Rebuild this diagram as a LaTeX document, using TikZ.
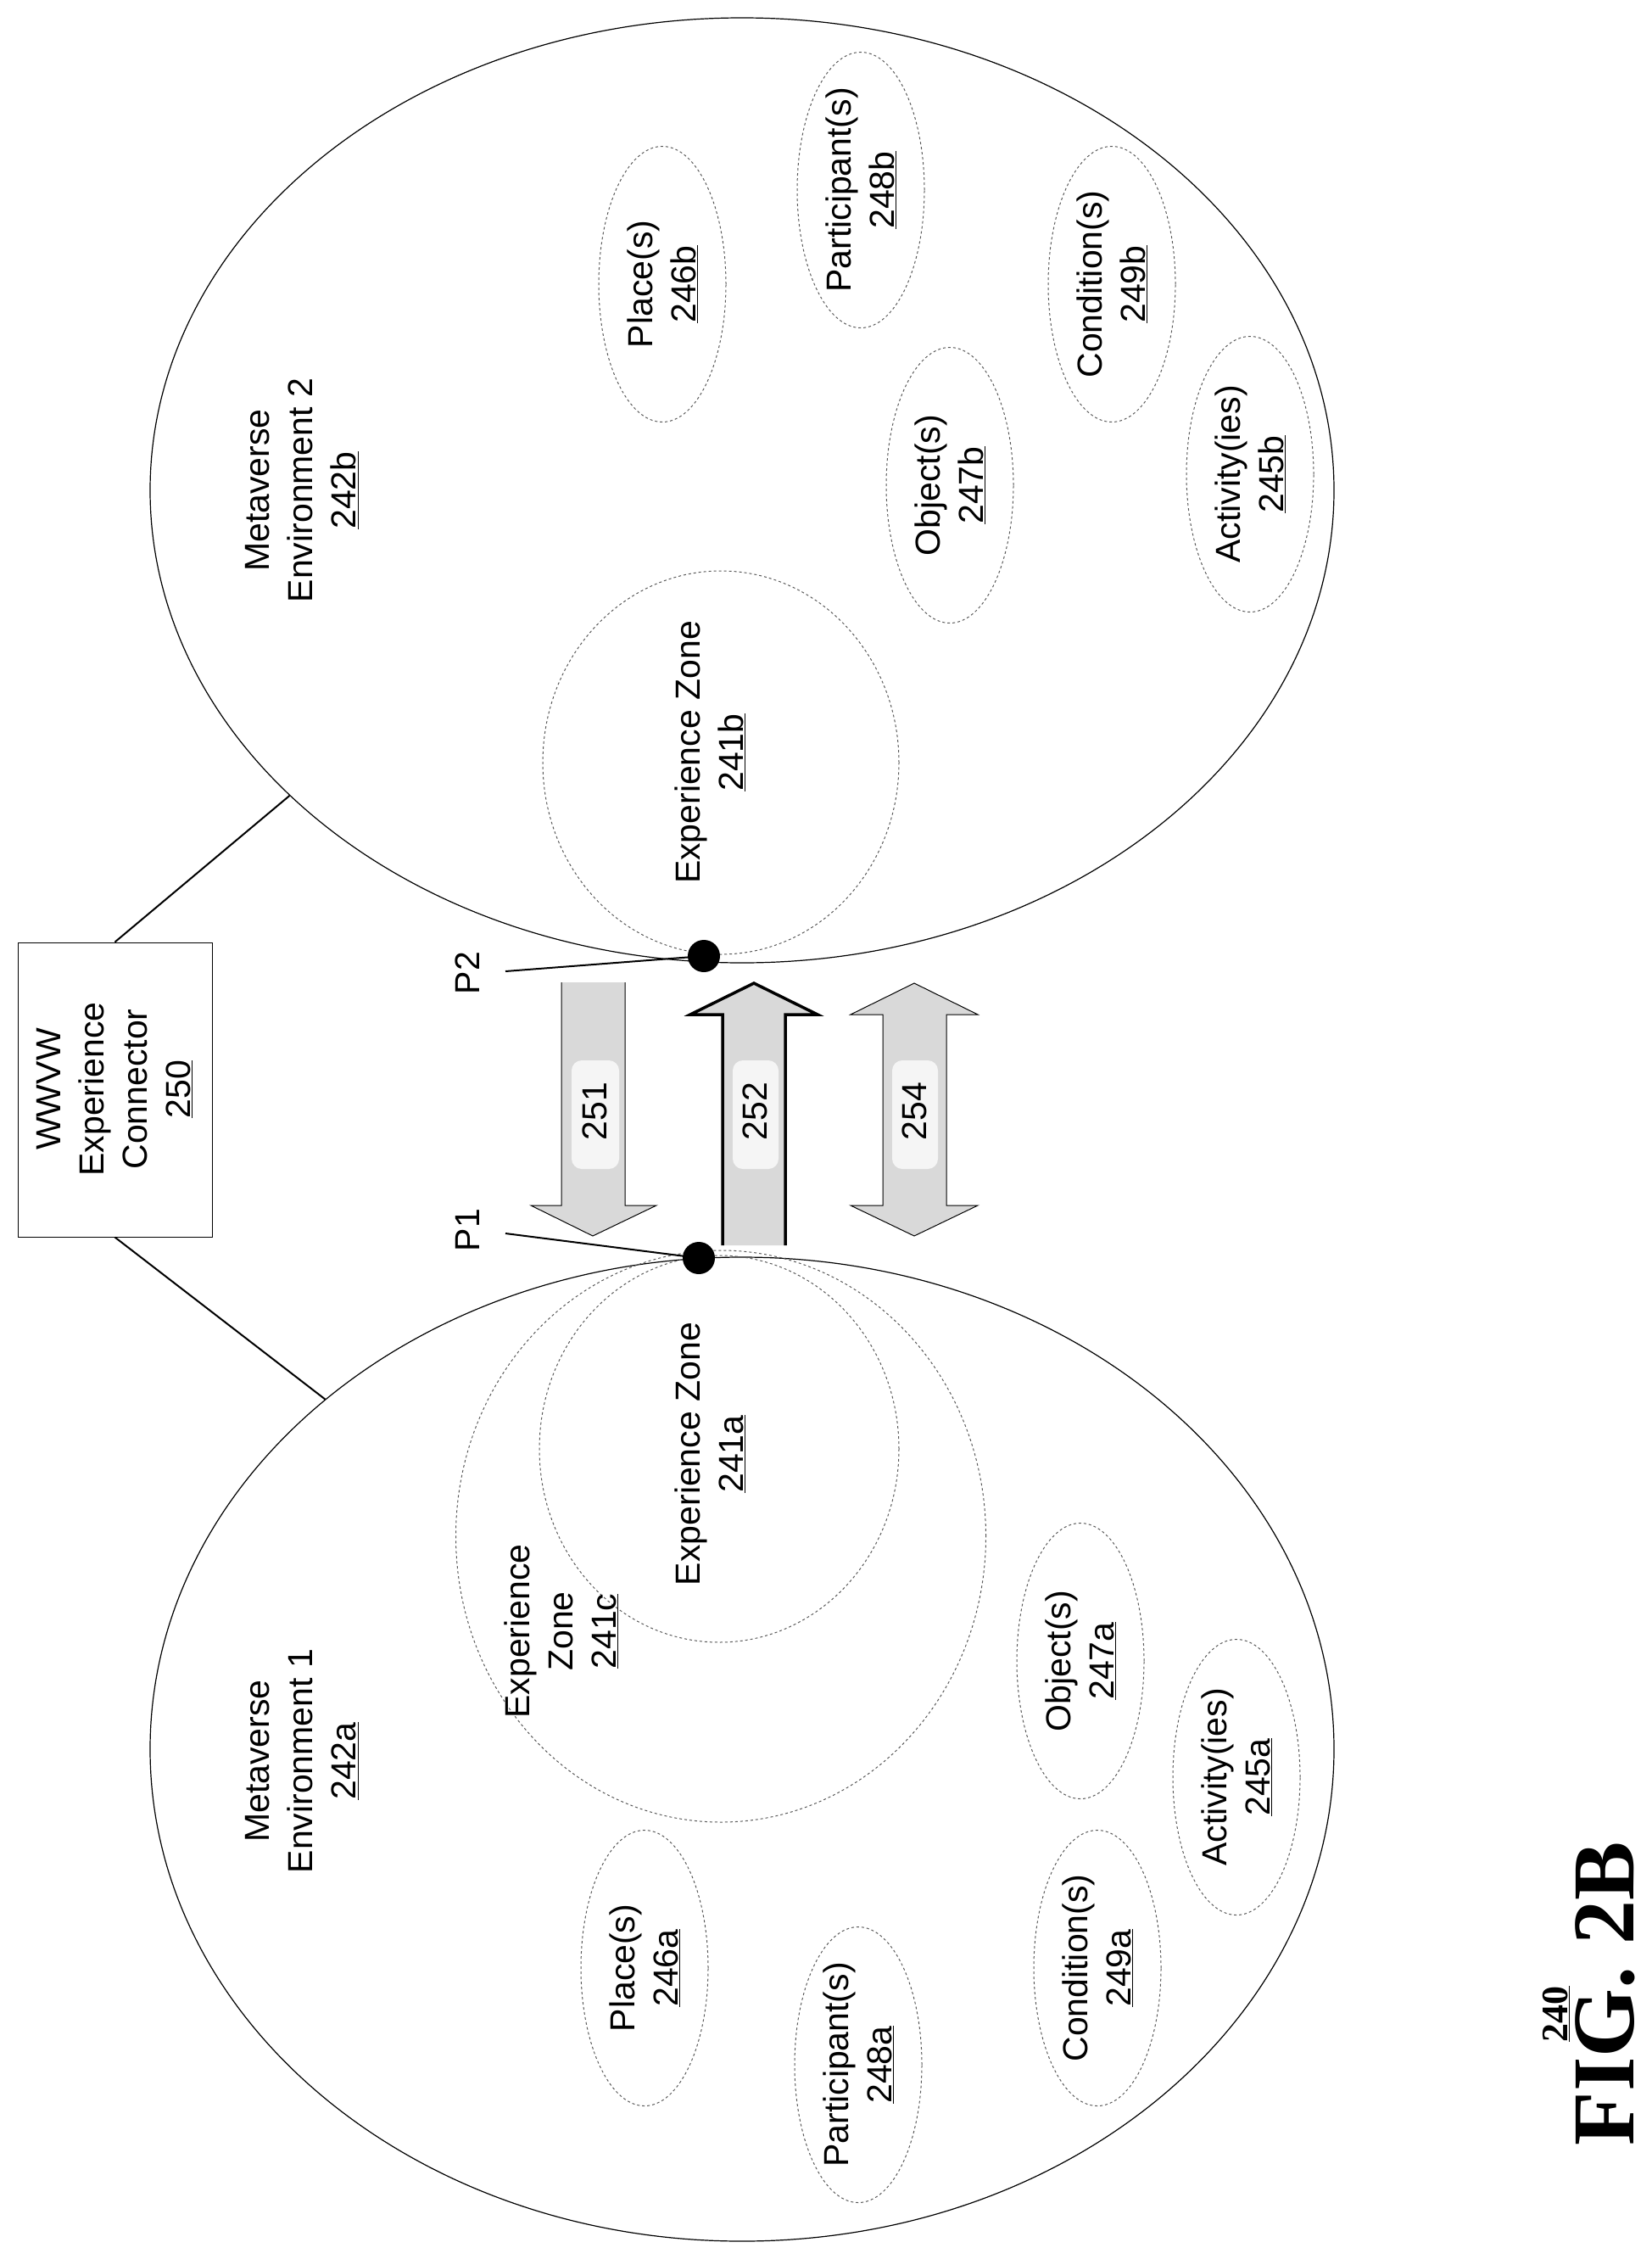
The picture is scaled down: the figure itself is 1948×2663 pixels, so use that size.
\documentclass[tikz,border=0pt]{standalone}
\usepackage{fontspec}
\setmainfont{Liberation Sans}
\newfontfamily\figfont{Liberation Serif}
\usetikzlibrary{shapes.geometric}
\begin{document}
\begin{tikzpicture}[x=1pt,y=-1pt,
  env/.style={ellipse,draw,line width=1.2pt,inner sep=0pt},
  zone/.style={ellipse,draw,dashed,gray!70!black,line width=1pt,inner sep=0pt},
  sub/.style={zone,minimum width=150pt,minimum height=325pt},
  lbl/.style={rotate=90,align=center,font=\fontsize{41}{51}\selectfont,inner sep=0pt},
  conn/.style={line width=2pt},
  dotn/.style={circle,fill=black,minimum size=38pt,inner sep=0pt},
  arr/.style={fill=gray!30,draw=black,line width=1pt},
  patch/.style={fill=gray!8,draw=none,rounded corners=12pt}]
\useasboundingbox (0,0) rectangle (1948,2663);
% environments
\node[env,minimum width=1396pt,minimum height=1114pt] (env2) at (875,578) {};
\node[env,minimum width=1396pt,minimum height=1160pt] (env1) at (875,2062) {};
% zones env2
\node[zone,minimum width=420pt,minimum height=452pt] (z241b) at (850,899) {};
\node[sub] (e246b) at (781,335) {};
\node[sub] (e248b) at (1015,224) {};
\node[sub] (e249b) at (1311,335) {};
\node[sub] (e247b) at (1120,572) {};
\node[sub] (e245b) at (1474,559) {};
% zones env1
\node[zone,minimum width=625pt,minimum height=674pt] (z241c) at (850,1811) {};
\node[zone,minimum width=424pt,minimum height=456pt] (z241a) at (848,1708) {};
\node[sub] (e246a) at (760,2320) {};
\node[sub] (e248a) at (1012,2434) {};
\node[sub] (e249a) at (1294,2320) {};
\node[sub] (e247a) at (1274,1958) {};
\node[sub] (e245a) at (1458,2095) {};
% texts
\node[lbl] (t242b) at (356,578) {Metaverse\\Environment 2\\\underline{242b}};
\node[lbl] (t241b) at (837,887) {Experience Zone\\\underline{241b}};
\node[lbl] (t246b) at (781,335) {Place(s)\\\underline{246b}};
\node[lbl] (t248b) at (1015,224) {Participant(s)\\\underline{248b}};
\node[lbl] (t249b) at (1311,335) {Condition(s)\\\underline{249b}};
\node[lbl] (t247b) at (1120,572) {Object(s)\\\underline{247b}};
\node[lbl] (t245b) at (1474,559) {Activity(ies)\\\underline{245b}};
\node[lbl] (t242a) at (356,2076) {Metaverse\\Environment 1\\\underline{242a}};
\node[lbl] (t241c) at (662,1923) {Experience\\Zone\\\underline{241c}};
\node[lbl] (t241a) at (837,1714) {Experience Zone\\\underline{241a}};
\node[lbl] (t246a) at (760,2320) {Place(s)\\\underline{246a}};
\node[lbl] (t248a) at (1012,2434) {Participant(s)\\\underline{248a}};
\node[lbl] (t249a) at (1294,2320) {Condition(s)\\\underline{249a}};
\node[lbl] (t247a) at (1274,1958) {Object(s)\\\underline{247a}};
\node[lbl] (t245a) at (1458,2095) {Activity(ies)\\\underline{245a}};
% connector box
\node[draw,line width=1pt,minimum width=229pt,minimum height=347pt] (box) at (135.5,1284.5) {};
\node[lbl] (tbox) at (135,1284) {WWVW\\Experience\\Connector\\\underline{250}};
\draw[conn] (box.north) -- (env2.214);
\draw[conn] (box.south) -- (env1.140);
% arrows
\draw[arr,draw=none] (662,1158) -- (662,1421) -- (626,1421) -- (699,1457) -- (774,1421) -- (737,1421) -- (737,1158) -- cycle;
\draw[line width=1pt] (662,1158) -- (662,1421) -- (626,1421) -- (699,1457) -- (774,1421) -- (737,1421) -- (737,1158);
\draw[arr,draw=none] (852,1468) -- (852,1196) -- (814,1196) -- (889,1159) -- (964,1196) -- (926,1196) -- (926,1468) -- cycle;
\draw[line width=3.5pt,line join=miter] (852,1468) -- (852,1196) -- (814,1196) -- (889,1159) -- (964,1196) -- (926,1196) -- (926,1468);
\draw[arr] (1041,1196) -- (1003,1196) -- (1078,1159) -- (1153,1196) -- (1116,1196) -- (1116,1421) -- (1153,1421) -- (1078,1457) -- (1003,1421) -- (1041,1421) -- cycle;
\fill[patch] (674,1250) rectangle (730,1378);
\fill[patch] (864,1250) rectangle (918,1378);
\fill[patch] (1052,1250) rectangle (1106,1378);
\node[lbl] (a251) at (701,1310) {251};
\node[lbl] (a252) at (890,1310) {252};
\node[lbl] (a254) at (1078,1310) {254};
% points
\node[dotn] (p2) at (830,1127) {};
\node[dotn] (p1) at (824,1483) {};
\node[lbl] (lp2) at (551,1147) {P2};
\node[lbl] (lp1) at (551,1450) {P1};
\draw[conn] (596,1145) coordinate (c2) -- (p2.center);
\draw[conn] (596,1454) coordinate (c1) -- (p1.center);
% figure label
\node[rotate=90,font=\figfont\bfseries\fontsize{44}{46}\selectfont,inner sep=0pt] (n240) at (1835,2374) {\underline{240}};
\node[rotate=90,font=\figfont\bfseries\fontsize{104}{106}\selectfont,inner sep=0pt] (fig) at (1893,2350) {FIG. 2B};
\end{tikzpicture}
\end{document}
